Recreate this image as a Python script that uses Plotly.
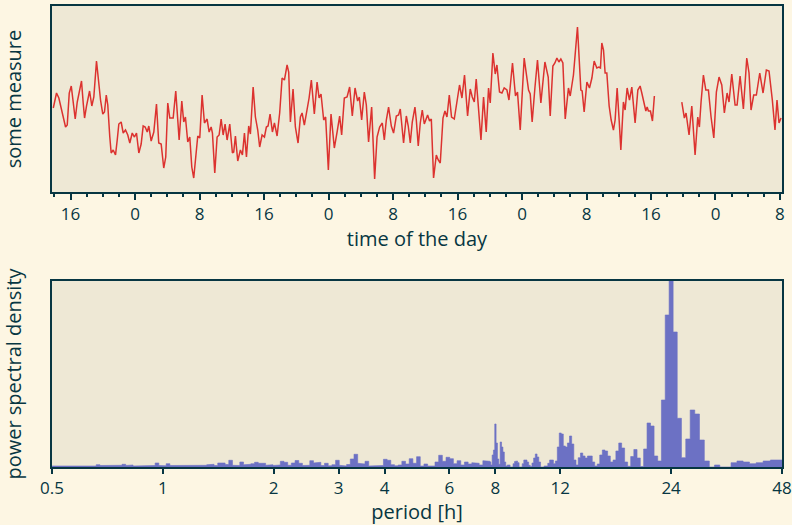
import math
import plotly.graph_objects as go

# ---------------- time series (hours since midnight of day 1) ----------------
time_h = [13.86,14.26,14.55,14.85,15.10,15.38,15.59,15.84,16.09,16.33,16.58,16.83,17.12,17.36,17.57,17.74,17.98,18.36,18.64,18.89,
19.22,19.56,19.72,20.00,20.21,20.43,20.62,20.87,21.04,21.29,21.58,21.79,21.99,22.28,22.53,22.82,23.10,23.35,23.65,23.93,
24.18,24.47,24.76,25.01,25.26,25.51,25.71,26.00,26.33,26.66,26.94,27.24,27.56,27.81,28.06,28.31,28.73,29.05,29.47,29.80,
30.04,30.25,30.54,30.79,31.04,31.28,31.58,31.78,32.03,32.32,32.61,32.94,33.19,33.44,33.60,33.89,34.18,34.43,34.68,34.93,
35.17,35.42,35.75,36.08,36.24,36.45,36.74,37.07,37.32,37.57,37.82,38.10,38.31,38.65,38.93,39.22,39.46,39.76,40.05,40.29,
40.50,40.75,41.04,41.29,41.62,41.94,42.24,42.53,42.86,43.06,43.27,43.60,43.89,44.22,44.51,44.72,45.00,45.34,45.59,45.87,
46.24,46.58,46.83,47.07,47.40,47.64,47.98,48.31,48.72,49.06,49.38,49.63,49.96,50.30,50.62,50.95,51.29,51.61,51.82,52.11,
52.44,52.69,52.97,53.35,53.72,54.02,54.34,54.67,54.92,55.17,55.45,55.79,56.07,56.41,56.69,56.90,57.31,57.65,57.89,58.14,
58.39,58.72,58.89,59.13,59.38,59.63,59.88,60.29,60.53,60.75,61.03,61.37,61.61,61.86,62.20,62.44,62.69,62.98,63.26,63.60,
63.93,64.25,64.55,64.87,65.25,65.58,65.83,66.08,66.32,66.61,66.91,67.23,67.56,67.85,68.06,68.39,68.68,68.89,69.21,69.51,
69.79,70.13,70.38,70.82,71.19,71.44,71.78,72.27,72.81,73.02,73.26,73.60,73.92,74.34,74.84,75.25,75.50,75.83,76.08,76.33,
76.57,76.82,77.07,77.36,77.76,77.98,78.38,78.88,79.30,79.46,79.71,80.05,80.37,80.67,80.95,81.28,81.53,81.73,81.90,82.11,
82.31,82.52,82.81,83.06,83.34,83.55,83.80,84.05,84.26,84.58,84.79,85.04,85.33,85.62,86.03,86.37,86.65,86.86,87.11,87.36,
87.52,87.68,87.93,88.18,88.42,None,
91.82,92.14,92.35,92.72,93.06,93.47,93.80,94.00,94.21,94.50,94.80,95.12,95.45,95.79,96.11,96.44,96.78,97.10,97.44,97.68,
98.02,98.43,98.68,99.05,99.46,99.88,100.16,100.41,100.74,101.07,101.49,101.90,102.31,102.64,103.05,103.38,103.63,103.88,104.13]

measure = [8.4,9.9,9.4,8.4,7.5,6.5,6.7,9.9,10.6,9.2,7.3,9.0,10.2,11.1,8.9,7.4,8.6,10.1,8.6,9.5,
13.1,9.9,9.2,7.8,8.0,9.7,8.7,5.5,3.9,4.2,3.7,5.2,6.8,7.0,5.9,6.2,5.7,4.9,5.9,5.5,
5.9,3.9,4.8,6.6,6.5,6.0,6.6,5.1,6.0,8.8,4.9,4.8,2.4,3.5,8.9,7.4,7.4,10.1,5.2,9.1,
7.0,7.5,5.0,5.5,2.5,1.4,3.9,5.6,5.4,9.7,6.9,7.3,6.0,6.5,5.9,1.9,5.5,5.7,7.3,5.7,
6.8,5.2,6.8,3.9,4.0,5.6,3.1,4.2,3.7,5.9,3.5,6.6,5.8,10.5,7.5,6.2,4.5,5.7,5.5,6.5,
6.6,7.8,6.0,6.9,5.6,7.9,11.4,11.2,12.7,12.0,7.0,10.3,6.5,4.9,7.5,7.9,6.7,8.3,9.4,11.2,
7.8,11.0,9.4,9.8,7.2,7.5,2.2,7.8,4.4,6.0,7.6,5.7,9.4,9.5,10.5,7.6,10.4,9.1,9.5,7.2,
10.0,8.7,5.0,8.5,1.3,5.5,6.5,6.9,5.2,7.2,8.5,6.6,5.9,7.6,7.7,8.3,4.9,7.6,6.6,4.9,
7.0,8.5,7.2,4.6,6.9,8.2,6.8,7.7,7.1,7.3,1.4,3.7,3.2,2.9,7.4,8.1,7.5,9.7,7.5,7.3,
9.0,10.7,9.4,11.7,7.6,10.3,9.5,9.0,11.3,8.2,5.2,9.5,6.0,10.4,8.9,13.9,11.8,12.7,10.0,9.9,
10.4,10.2,9.2,12.9,9.6,10.0,6.2,13.4,10.2,9.8,7.0,10.4,13.2,8.9,13.0,11.5,7.6,12.6,12.9,13.4,
13.0,13.3,12.9,7.3,10.4,9.6,11.7,16.5,10.2,10.1,8.0,11.0,10.4,11.4,13.1,12.4,12.5,12.4,14.9,14.2,
11.9,11.9,8.6,7.2,6.2,7.2,10.4,7.2,4.2,9.0,8.2,10.4,9.2,10.5,6.9,10.2,10.6,9.9,9.0,8.1,
8.5,8.1,8.1,7.1,9.6,None,
9.0,7.4,7.9,5.7,8.6,3.7,7.5,6.5,9.0,11.7,10.2,10.2,7.5,5.4,10.0,11.5,10.7,7.9,9.9,9.0,
11.8,8.7,8.7,11.6,8.3,13.4,11.9,8.2,9.7,9.7,11.9,9.9,12.2,12.1,9.2,6.2,9.2,6.9,7.4]

time_ticks = [16, 24, 32, 40, 48, 56, 64, 72, 80, 88, 96, 104]
time_tick_labels = ["16", "0", "8", "16", "0", "8", "16", "0", "8", "16", "0", "8"]

# ---------------- power spectrum ----------------
record_hours = 960          # length of the record -> frequency resolution 1/960 h^-1
k_first = 20                # first harmonic shown (period 48 h)
psd_k = [7, 7, 6, 4.3, 3.3, 5, 6, 4.3, 0, 0,            # k = 20..29
         2, 0, 6, 27, 53, 57, 28, 9.3, 48.7, 135,        # k = 30..39
         186, 152, 67, 6, 11, 41, 44, 18, 0.5, 9,        # k = 40..49
         17.5, 10.5, 0.7, 5, 19, 24, 16, 7, 5, 11,       # k = 50..59
         16, 17, 12, 3, 1, 5, 11, 11, 9, 11,             # k = 60..69
         14, 9.3, 2, 7, 23, 31, 24, 20, 21, 33,          # k = 70..79
         34, 20, 6, 3.3, 7, 7, 3.7, 1, 1, 0,             # k = 80..89
         0, 5, 10, 13, 9, 4, 0.5, 1.7, 5, 7,             # k = 90..99
         7, 3.3, 0, 0, 4.3, 6, 5.5, 3.3, 0, 0,           # k = 100..109
         2, 2, 1, 5, 15, 20, 25, 2.7, 8, 24,             # k = 110..119
         43, 17, 12, 2, 5]                               # k = 120..124

# short periods (0.5 h .. 7.7 h), band heights on a 0.01-decade grid
lf_start = 0.5
lf_log_step = 0.01
lf_psd = [1, 1.2, 1.7, 1, 1, 1, 1.2, 1.7, 1, 1,
          1.2, 1, 2.3, 1.5, 1, 1.5, 1.7, 1.7, 1.7, 2.7,
          1.5, 2, 1, 1, 1, 1, 1.2, 1.5, 4, 1.5,
          1.2, 3.3, 1.5, 1.7, 1.5, 1.7, 1.5, 1, 1, 1,
          1, 1.7, 2.2, 2.7, 1.5, 4, 4, 2.5, 6.7, 1.7,
          1.5, 5, 2.2, 2.7, 3.3, 4.7, 3.7, 3.7, 1.7, 2.3,
          1.5, 2, 5.7, 4.7, 1.7, 4, 6.5, 3.7, 1.5, 1.7,
          6.3, 4, 4.7, 1.5, 3.7, 1.2, 2.3, 6.7, 1.7, 1,
          2.5, 8, 12.7, 3.7, 3, 5.7, 1, 1.7, 1.2, 1.5,
          7.7, 6.7, 2.3, 1.2, 2, 5.7, 3, 8.3, 3.7, 10.3,
          1, 3, 1, 1, 5, 11.7, 5.7, 9.7, 8.3, 3.3,
          6.3, 2, 5, 3, 4.3, 3.7, 2, 6.3, 5.7]

period_ticks = [0.5, 1, 2, 3, 4, 6, 8, 12, 24, 48]
period_tick_labels = ["0.5", "1", "2", "3", "4", "6", "8", "12", "24", "48"]

# build step outline of the spectrum (ascending period)
spec_x, spec_y = [], []
for i, h in enumerate(lf_psd):
    lo = lf_start * 10 ** (lf_log_step * i)
    hi = lf_start * 10 ** (lf_log_step * (i + 1))
    spec_x += [lo, hi]
    spec_y += [h, h]
for j in range(len(psd_k) - 1, -1, -1):
    k = k_first + j
    lo = record_hours / (k + 0.5)
    hi = record_hours / (k - 0.5)
    spec_x += [lo, hi]
    spec_y += [psd_k[j], psd_k[j]]

DARK = "#073642"
RED = "#dc322f"
VIOLET = "#6c71c4"

fig = go.Figure()
fig.add_trace(go.Scatter(x=time_h, y=measure, mode="lines", connectgaps=False,
                         line=dict(color=RED, width=1.5), xaxis="x", yaxis="y",
                         hoverinfo="skip"))
fig.add_trace(go.Scatter(x=spec_x, y=spec_y, mode="lines", fill="tozeroy",
                         fillcolor=VIOLET, line=dict(color=VIOLET, width=0.6),
                         xaxis="x2", yaxis="y2", hoverinfo="skip"))

frame = dict(showline=True, linecolor=DARK, linewidth=2, mirror=True,
             showgrid=False, zeroline=False)

fig.update_layout(
    template="none",
    width=792, height=525,
    margin=dict(l=52, r=10, t=6, b=58),
    paper_bgcolor="#fdf6e3", plot_bgcolor="#eee8d5",
    showlegend=False,
    font=dict(family="Open Sans", size=17, color=DARK),
    xaxis=dict(domain=[0, 1], anchor="y", range=[13.7, 104.25],
               tickmode="array", tickvals=time_ticks, ticktext=time_tick_labels,
               ticks="outside", ticklen=6, tickwidth=2, tickcolor=DARK,
               minor=dict(dtick=2, tick0=0, ticks="outside", ticklen=3,
                          tickwidth=1.5, tickcolor=DARK, showgrid=False),
               title=dict(text="time of the day", standoff=5), automargin=False,
               **frame),
    yaxis=dict(domain=[0.5965, 1], anchor="x", range=[0, 18.6],
               showticklabels=False, ticks="",
               title=dict(text="some measure", standoff=25), automargin=False,
               **frame),
    xaxis2=dict(domain=[0, 1], anchor="y2", type="log",
                range=[math.log10(0.5) - 1e-4, math.log10(48) + 1e-4],
                tickmode="array", tickvals=period_ticks, ticktext=period_tick_labels,
                ticks="outside", ticklen=5, tickwidth=2, tickcolor=DARK,
                title=dict(text="period [h]", standoff=6), automargin=False,
                **frame),
    yaxis2=dict(domain=[0, 0.4035], anchor="x2", range=[0, 186],
                showticklabels=False, ticks="",
                title=dict(text="power spectral density", standoff=25), automargin=False,
                **frame),
)

fig.write_html("out.html")
